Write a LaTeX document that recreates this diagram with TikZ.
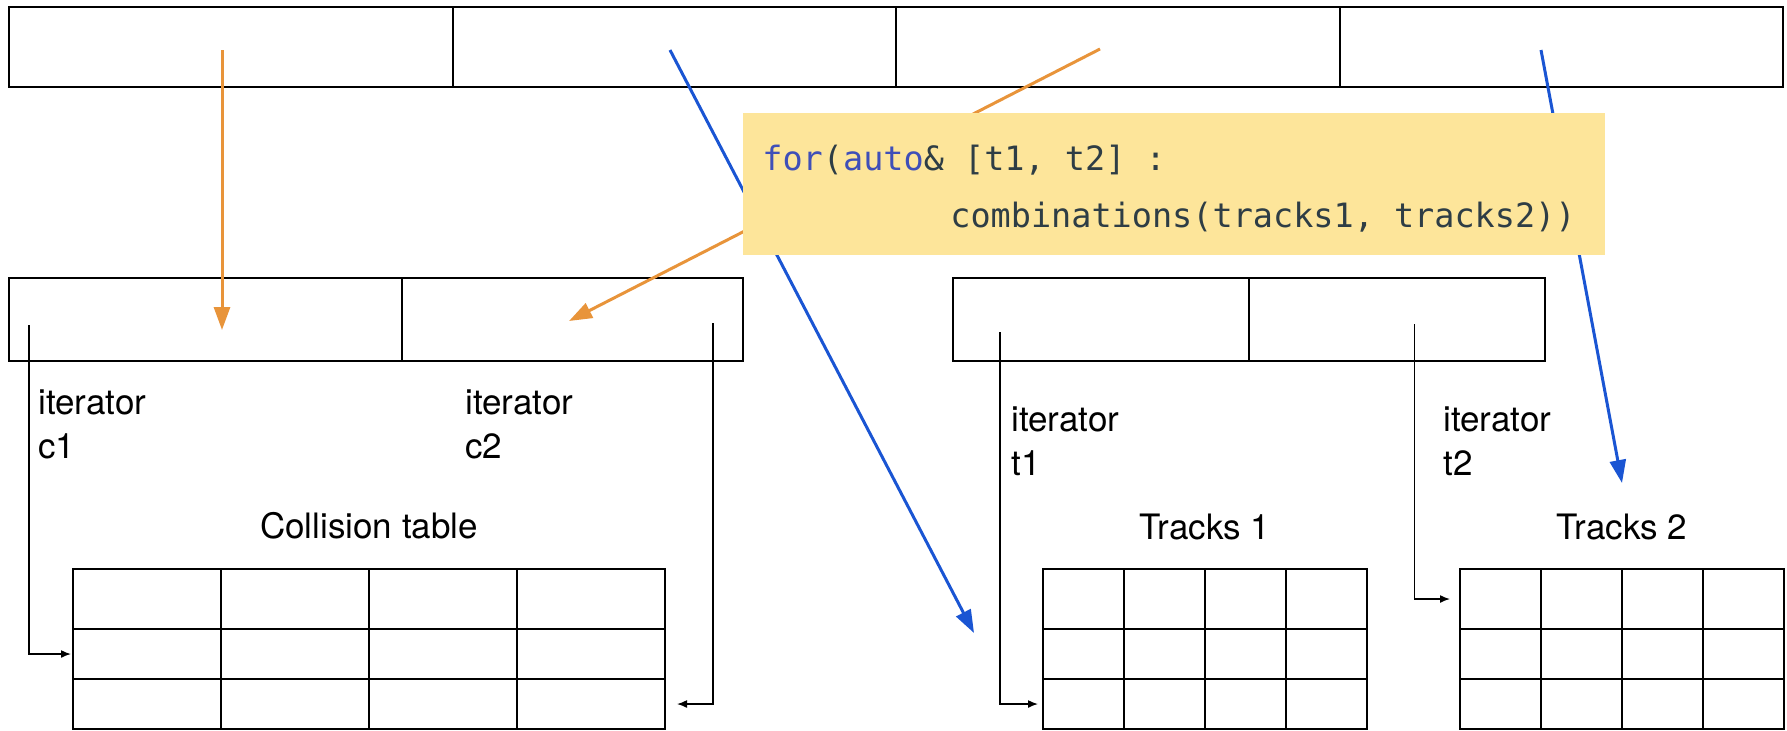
\documentclass[tikz,border=0pt]{standalone}
\usepackage{fontspec}
\setmainfont{TeX Gyre Heros}
\newfontfamily\codefont[WordSpace={1,0,0}]{DejaVu Sans Mono}
\usepackage{xcolor}
\usetikzlibrary{positioning,arrows.meta}
\definecolor{codeyellow}{HTML}{FDE59A}
\definecolor{kwblue}{HTML}{3F4FB8}
\definecolor{codegray}{HTML}{2E3D45}
\definecolor{ptrorange}{HTML}{E8943A}
\definecolor{ptrblue}{HTML}{1A55D3}
\newcommand\kw[1]{\textcolor{kwblue}{#1}}
\newcommand\msp{\hspace*{0.602em}}

\begin{document}
\begin{tikzpicture}[x=0.5pt,y=-0.5pt,node distance=0pt,
    cell/.style={rectangle,draw=black,line width=1pt,inner sep=0pt,outer sep=0pt,anchor=north west},
    lbl/.style={align=left,inner sep=0pt,anchor=west,font=\fontsize{17.5}{22}\selectfont},
    title/.style={inner sep=0pt,font=\fontsize{17.5}{22}\selectfont},
    iter/.style={-{Latex[length=5pt,width=4pt]},line width=0.75pt,black},
    ptr/.style={-{Triangle[length=11.5pt,width=8pt]},line width=1.5pt},
    codebox/.style={rectangle,fill=codeyellow,text=codegray,align=left,
      font=\codefont\fontsize{16.75}{28.5}\selectfont,
      text width=412pt,inner xsep=9.5pt,minimum height=71pt}
    ]
    \useasboundingbox (0,0) rectangle (1787,730);

    % top row: four slots
    \node[cell,minimum width=221.75pt,minimum height=40pt] (top1) at (9,7) {};
    \node[cell,minimum width=221.75pt,minimum height=40pt,right=of top1] (top2) {};
    \node[cell,minimum width=221.75pt,minimum height=40pt,right=of top2] (top3) {};
    \node[cell,minimum width=221.75pt,minimum height=40pt,right=of top3] (top4) {};

    % iterator pairs
    \node[cell,minimum width=196.5pt,minimum height=41.5pt] (c1box) at (9,278) {};
    \node[cell,minimum width=170.5pt,minimum height=41.5pt,right=of c1box] (c2box) {};
    \node[cell,minimum width=148pt,minimum height=41.5pt] (t1box) at (953,278) {};
    \node[cell,minimum width=148pt,minimum height=41.5pt,right=of t1box] (t2box) {};

    % tables
    \foreach \r/\h/\y in {1/30pt/569, 2/25pt/629, 3/25pt/679}
      \foreach \c in {1,...,4} {
        \node[cell,minimum width=74pt,minimum height=\h] (coll-\r-\c) at ({73+148*(\c-1)},\y) {};
        \node[cell,minimum width=40.5pt,minimum height=\h] (trk1-\r-\c) at ({1043+81*(\c-1)},\y) {};
        \node[cell,minimum width=40.5pt,minimum height=\h] (trk2-\r-\c) at ({1460+81*(\c-1)},\y) {};
      }

    \node[title,above=14.5pt of coll-1-2.north east] (colltitle) {Collision table};
    \node[title,above=14.5pt of trk1-1-2.north east] (trk1title) {Tracks 1};
    \node[title,above=14.5pt of trk2-1-2.north east] (trk2title) {Tracks 2};

    \node[lbl] (itc1) at (38,424) {iterator\\c1};
    \node[lbl] (itc2) at (465,424) {iterator\\c2};
    \node[lbl] (itt1) at (1011,441) {iterator\\t1};
    \node[lbl] (itt2) at (1443,441) {iterator\\t2};

    \coordinate (c1top) at (29,325);
    \coordinate (c2top) at (713,323);
    \coordinate (t1top) at (1000,332);
    \coordinate (t2top) at (1414.5,324);

    \draw[iter,shorten >=1pt] (c1top) |- (coll-2-1.west);
    \draw[iter,shorten >=6pt] (c2top) |- (coll-3-4.east);
    \draw[iter,shorten >=2.5pt] (t1top) |- (trk1-3-1.west);
    \draw[iter,shorten >=5pt] (t2top) |- (trk2-1-1.west);

    % slot pointers, passing under the code box
    \coordinate (o1s) at (222,50);
    \coordinate (o1e) at (222,330);
    \coordinate (b1s) at (670,50);
    \coordinate (b1e) at (974,633);
    \coordinate (o2s) at (1100,49);
    \coordinate (o2e) at (569,321);
    \coordinate (b2s) at (1541,50);
    \coordinate (b2e) at (1622,483);

    \draw[ptr,ptrorange] (o1s) -- (o1e);
    \draw[ptr,ptrblue] (b1s) -- (b1e);
    \draw[ptr,ptrorange] (o2s) -- (o2e);
    \draw[ptr,ptrblue] (b2s) -- (b2e);

    \node[codebox,anchor=north west] (code) at (743,113)
      {\rule{0pt}{17pt}\mbox{\kw{for}(\kw{auto}\&\msp[t1,\msp t2]\msp:}\\
       \mbox{\hspace*{94pt}combinations(tracks1,\msp tracks2))}};

  \end{tikzpicture}
\end{document}
